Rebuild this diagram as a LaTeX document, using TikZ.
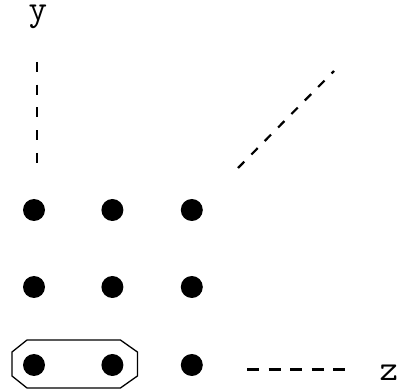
\documentclass[tikz,border=0pt]{standalone}
\usepackage{fontspec}
\usetikzlibrary{positioning}

\begin{document}
\begin{tikzpicture}[x=1pt,y=-1pt,
  dot/.style={circle,fill=black,inner sep=0pt,minimum size=22pt},
  axis/.style={font=\ttfamily\fontsize{36}{36}\selectfont,inner sep=0pt},
  guide/.style={line width=2pt}]
\useasboundingbox (0,0) rectangle (397,390);
% grid of points
\node[dot] (a1) at (34,210) {};
\node[dot,right=56pt of a1] (a2) {};
\node[dot,right=57pt of a2] (a3) {};
\node[dot] (b1) at (34,287) {};
\node[dot,right=56pt of b1] (b2) {};
\node[dot,right=57pt of b2] (b3) {};
\node[dot] (c1) at (34,365) {};
\node[dot,right=56pt of c1] (c2) {};
\node[dot,right=57pt of c2] (c3) {};
% axes
\node[axis] (ylab) at (38,17) {y};
\node[axis] (zlab) at (389,373) {z};
\coordinate (ytop) at (37,62);
\coordinate (ybot) at (37,163);
\coordinate (xa) at (238,168);
\coordinate (xb) at (334,71);
\coordinate (za) at (247,370);
\coordinate (zb) at (345,370);
\draw[guide,dash pattern=on 10pt off 12.7pt] (ytop) -- (ybot);
\draw[guide,line width=2.2pt,dash pattern=on 9pt off 10pt] (xa) -- (xb);
\draw[guide,line width=3pt,dash pattern=on 12pt off 9.5pt] (za) -- (zb);
% pair
\draw[line width=1.3pt] ([xshift=-22pt,yshift=13pt]c1.center) -- ([xshift=-7pt,yshift=25pt]c1.center)
  -- ([xshift=8pt,yshift=25pt]c2.center) -- ([xshift=25pt,yshift=13pt]c2.center)
  -- ([xshift=25pt,yshift=-11pt]c2.center) -- ([xshift=8pt,yshift=-23pt]c2.center)
  -- ([xshift=-7pt,yshift=-23pt]c1.center) -- ([xshift=-22pt,yshift=-11pt]c1.center) -- cycle;
\end{tikzpicture}
\end{document}
